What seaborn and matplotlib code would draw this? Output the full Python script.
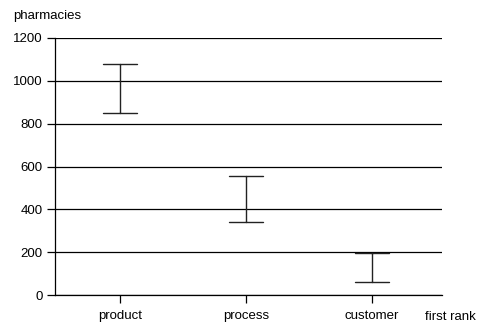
import matplotlib
matplotlib.use("Agg")
import matplotlib.pyplot as plt
import seaborn as sns
import pandas as pd

categories = ["product", "process", "customer"]
low_values = [850, 339, 62]
high_values = [1077, 555, 195]
y_ticks = [0, 200, 400, 600, 800, 1000, 1200]

df = pd.DataFrame({
    "rank": categories + categories,
    "pharmacies": low_values + high_values,
})

sns.set_theme(style="white")
plt.rcParams["font.family"] = ["Liberation Sans", "DejaVu Sans"]
plt.rcParams["text.color"] = "black"

fig = plt.figure(figsize=(4.78, 3.24), dpi=100)
ax = fig.add_axes([55/478, 1 - 295/324, (442-55)/478, (295-38)/324])

sns.pointplot(data=df, x="rank", y="pharmacies", order=categories,
              estimator="mean", errorbar=("pi", 100), capsize=0.27,
              color="black", markers="", linestyles="none",
              err_kws={"linewidth": 1.0, "color": "#222222"}, ax=ax)

ax.set_ylim(0, 1200)
ax.set_xlim(-0.516, 2.556)
ax.set_yticks(y_ticks)
ax.yaxis.grid(True, color="black", linewidth=0.9)
ax.set_axisbelow(True)
for s in ["top", "right"]:
    ax.spines[s].set_visible(False)
ax.spines["left"].set_color("black")
ax.spines["left"].set_linewidth(0.9)
ax.spines["bottom"].set_color("black")
ax.spines["bottom"].set_linewidth(0.9)
ax.tick_params(axis="both", which="both", direction="out", length=6, width=0.9,
               color="black", labelsize=9.5, labelcolor="black", pad=3,
               left=True, bottom=True)
ax.tick_params(axis="x", pad=5)
ax.set_xlabel("")
ax.set_ylabel("")
fig.text(13/478, 1 - 16/324, "pharmacies", fontsize=9.5, ha="left", va="center", color="black")
fig.text(476/478, 1 - 317/324, "first rank", fontsize=9.5, ha="right", va="center", color="black")

fig.savefig("out.png", dpi=100)
